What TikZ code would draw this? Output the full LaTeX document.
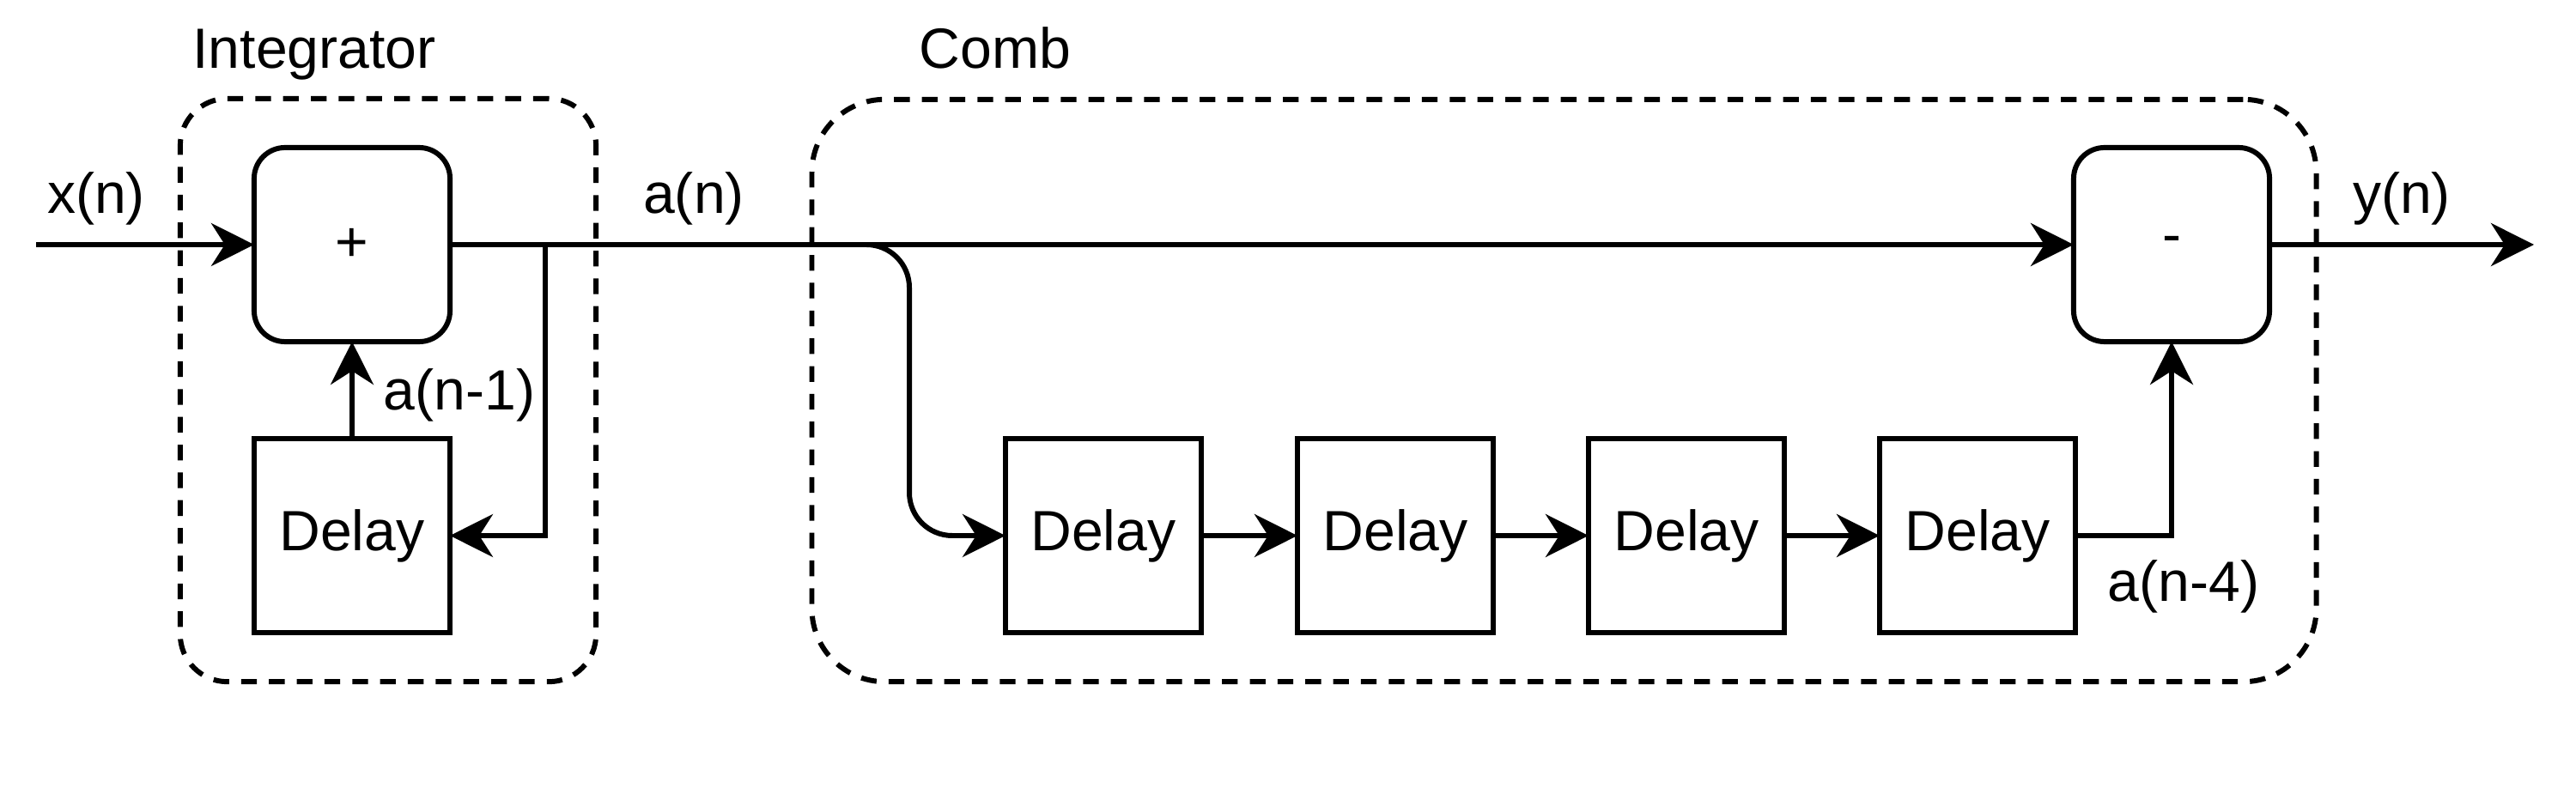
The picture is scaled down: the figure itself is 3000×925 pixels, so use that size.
\documentclass[tikz,border=0pt]{standalone}
\usepackage{fontspec}
\setmainfont{Liberation Sans}
\usetikzlibrary{arrows.meta}
\begin{document}
\begin{tikzpicture}[x=0.01cm,y=-0.01cm,
  every node/.style={font=\fontsize{18.8}{22}\selectfont},
  blk/.style={draw, line width=1.7pt, minimum width=2.28cm, minimum height=2.26cm, inner sep=0pt, outer sep=0pt},
  opbox/.style={blk, rounded corners=0.36cm},
  grp/.style={draw, dash pattern=on 5.2pt off 4pt, line width=1.7pt, inner sep=0pt, outer sep=0pt},
  arr/.style={line width=1.7pt, -{Stealth[length=14.2pt,width=14.2pt,inset=4.5pt]}},
  lbl/.style={anchor=base, inner sep=0pt}
]
\useasboundingbox (0,0) rectangle (3000,925);
\fill[white] (0,0) rectangle (3000,925);

% groups
\node[grp, rounded corners=0.55cm, minimum width=4.84cm, minimum height=6.79cm] (integ) at (452,454.5) {};
\node[grp, rounded corners=0.85cm, minimum width=17.51cm, minimum height=6.78cm] (comb) at (1821.5,455) {};

% blocks
\node[opbox] (plus) at (410,285) {+};
\node[blk] (idelay) at (410,624) {Delay};
\node[blk] (d1) at (1285,624) {Delay};
\node[blk] (d2) at (1625,624) {Delay};
\node[blk] (d3) at (1964,624) {Delay};
\node[blk] (d4) at (2303,624) {Delay};
\node[opbox] (minus) at (2529,285) {-};

% labels
\node[lbl] (lx) at (112,249) {x(n)};
\node[lbl] (la) at (808,249) {a(n)};
\node[lbl] (ly) at (2797,249) {y(n)};
\node[lbl] (li) at (366,80) {Integrator};
\node[lbl] (lc) at (1159,80) {Comb};
\node[lbl] (la1) at (535,478) {a(n-1)};
\node[lbl] (la4) at (2543,700) {a(n-4)};

% coordinates
\coordinate (in) at (42,285);
\coordinate (out) at (2951,285);
\coordinate (fb) at (635,285);
\coordinate (br) at (990,285);
\coordinate (bc) at (1059,624);

% connectors
\draw[arr] (in) -- (plus.west);
\draw[arr] (plus.east) -- (minus.west);
\draw[arr] (fb) |- (idelay.east);
\draw[arr] (idelay.north) -- (plus.south);
\draw[arr, rounded corners=0.5cm] (br) -| (bc) -- (d1.west);
\draw[arr] (d1.east) -- (d2.west);
\draw[arr] (d2.east) -- (d3.west);
\draw[arr] (d3.east) -- (d4.west);
\draw[arr] (d4.east) -| (minus.south);
\draw[arr] (minus.east) -- (out);
\end{tikzpicture}
\end{document}
